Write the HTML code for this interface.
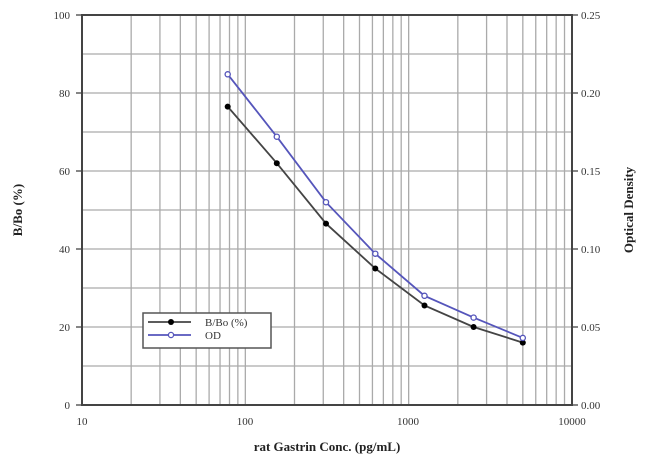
<!DOCTYPE html><html><head><style>body{margin:0;background:#fff}svg text{font-family:"Liberation Serif",serif;fill:#333}</style></head><body>
<svg id="s" width="650" height="466" xmlns="http://www.w3.org/2000/svg">
<g id="grid" stroke="#aaa" stroke-width="1.3"></g>
<rect x="82" y="15" width="490" height="390" fill="none" stroke="#444" stroke-width="2"/>
<g font-size="11" text-anchor="end">
<text x="70" y="19">100</text><text x="70" y="97">80</text><text x="70" y="175">60</text><text x="70" y="253">40</text><text x="70" y="331">20</text><text x="70" y="409">0</text></g>
<g font-size="11" text-anchor="start">
<text x="581" y="19">0.25</text><text x="581" y="97">0.20</text><text x="581" y="175">0.15</text><text x="581" y="253">0.10</text><text x="581" y="331">0.05</text><text x="581" y="409">0.00</text></g>
<g font-size="11" text-anchor="middle">
<text x="82" y="425">10</text><text x="245" y="425">100</text><text x="408" y="425">1000</text><text x="572" y="425">10000</text></g>
<text x="327" y="451" font-size="13" font-weight="bold" text-anchor="middle" style="fill:#222">rat Gastrin Conc. (pg/mL)</text>
<text transform="translate(22,210) rotate(-90)" font-size="13" font-weight="bold" text-anchor="middle" style="fill:#222">B/Bo (%)</text>
<text transform="translate(633,210) rotate(-90)" font-size="13" font-weight="bold" text-anchor="middle" style="fill:#222">Optical Density</text>
<polyline fill="none" stroke="#444" stroke-width="1.8" points="227.7,106.6 276.8,163.2 326,223.6 375.3,268.5 424.5,305.5 473.6,327 522.8,342.6"/>
<polyline fill="none" stroke="#5555bb" stroke-width="1.8" points="227.7,74.3 276.8,136.7 326,202.2 375.3,253.7 424.5,295.8 473.6,317.6 522.8,337.9"/>
<g fill="#000"><circle cx="227.7" cy="106.6" r="3"/><circle cx="276.8" cy="163.2" r="3"/><circle cx="326" cy="223.6" r="3"/><circle cx="375.3" cy="268.5" r="3"/><circle cx="424.5" cy="305.5" r="3"/><circle cx="473.6" cy="327" r="3"/><circle cx="522.8" cy="342.6" r="3"/></g>
<g fill="#fff" stroke="#5555bb" stroke-width="1.3"><circle cx="227.7" cy="74.3" r="2.6"/><circle cx="276.8" cy="136.7" r="2.6"/><circle cx="326" cy="202.2" r="2.6"/><circle cx="375.3" cy="253.7" r="2.6"/><circle cx="424.5" cy="295.8" r="2.6"/><circle cx="473.6" cy="317.6" r="2.6"/><circle cx="522.8" cy="337.9" r="2.6"/></g>
<rect x="143" y="313" width="128" height="35" fill="#fff" stroke="#555" stroke-width="1.5"/>
<line x1="148" y1="322" x2="191" y2="322" stroke="#444" stroke-width="1.8"/><circle cx="171" cy="322" r="3" fill="#000"/>
<line x1="148" y1="335" x2="191" y2="335" stroke="#5555bb" stroke-width="1.8"/><circle cx="171" cy="335" r="2.6" fill="#fff" stroke="#5555bb" stroke-width="1.3"/>
<text x="205" y="326" font-size="11">B/Bo (%)</text><text x="205" y="339" font-size="11">OD</text>
</svg>
<script>
var g=document.getElementById('grid'),h='';
for(var d=0;d<3;d++)for(var k=2;k<=10;k++){var x=82+(d+Math.log10(k))*163.33;h+='<line x1="'+x+'" y1="15" x2="'+x+'" y2="405"/>';}
for(var i=1;i<10;i++){var y=15+i*39;h+='<line x1="82" y1="'+y+'" x2="572" y2="'+y+'"/>';}
for(var i=0;i<=10;i+=2){var y=15+i*39;h+='<line x1="76" y1="'+y+'" x2="82" y2="'+y+'" stroke="#444"/><line x1="572" y1="'+y+'" x2="578" y2="'+y+'" stroke="#444"/>';}
g.innerHTML=h;
</script>
</body></html>
